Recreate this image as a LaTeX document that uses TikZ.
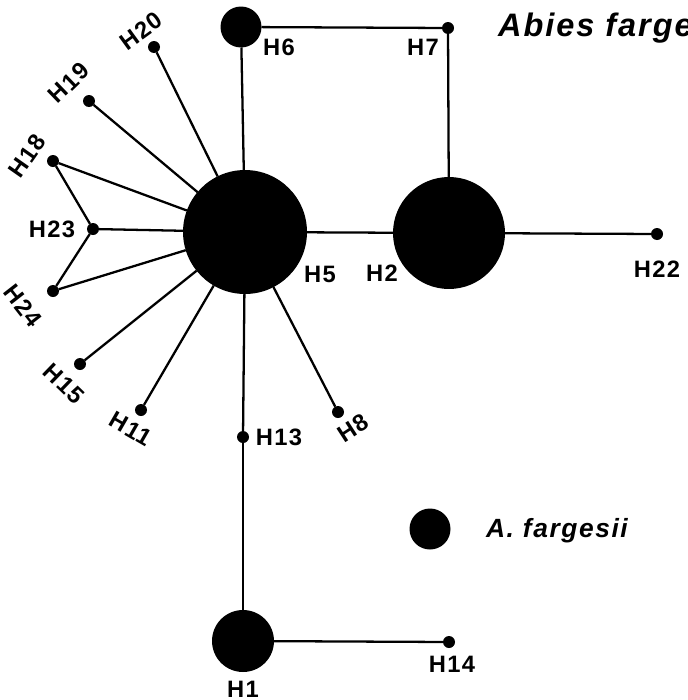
\documentclass[tikz,border=0pt]{standalone}
\usepackage{fontspec}
\setmainfont{Liberation Sans}[LetterSpace=6]
\begin{document}
\begin{tikzpicture}[x=0.02cm, y=-0.02cm, line width=1.3pt, font=\bfseries\fontsize{13.5}{16}\selectfont]

    % Styles
    \tikzstyle{hap} = [circle, fill=black, inner sep=0pt, outer sep=0pt]
    \tikzstyle{dot} = [hap, minimum size=0.24cm]
    \tikzstyle{lab} = [inner sep=0pt]
    \tikzstyle{link} = [draw=black, line width=1.3pt]

    \useasboundingbox (0,0) rectangle (687,700);

    % Haplotypes
    \node[hap, minimum size=2.48cm] (h5) at (245,232) {}; % central haplotype
    \node[hap, minimum size=2.24cm] (h2) at (449,233) {};
    \node[hap, minimum size=1.24cm] (h1) at (243,641) {};
    \node[hap, minimum size=0.82cm] (h6) at (241,27) {};
    \node[dot] (h7) at (448,28) {};
    \node[dot] (h22) at (657,234) {};
    \node[dot] (h20) at (154,47) {};
    \node[dot] (h19) at (89,101) {};
    \node[dot] (h18) at (53,161) {};
    \node[dot] (h23) at (93,229) {};
    \node[dot] (h24) at (53,291) {};
    \node[dot] (h15) at (80,364) {};
    \node[dot] (h11) at (141,410) {};
    \node[dot] (h13) at (243,437) {};
    \node[dot] (h8) at (338,412) {};
    \node[dot] (h14) at (449,642) {};

    % Labels
    \node[lab] (lab_h5) at (320,274) {H5};
    \node[lab] (lab_h2) at (382,273) {H2};
    \node[lab] (lab_h1) at (243,689) {H1};
    \node[lab] (lab_h6) at (279,47) {H6};
    \node[lab] (lab_h7) at (423,47) {H7};
    \node[lab] (lab_h22) at (657,269) {H22};
    \node[lab, rotate=36] (lab_h20) at (141,31) {H20};
    \node[lab, rotate=44] (lab_h19) at (69,83) {H19};
    \node[lab, rotate=55] (lab_h18) at (27,156) {H18};
    \node[lab] (lab_h23) at (52,229) {H23};
    \node[lab, rotate=-52] (lab_h24) at (23,306) {H24};
    \node[lab, rotate=-44] (lab_h15) at (64,384) {H15};
    \node[lab, rotate=-30] (lab_h11) at (131,429) {H11};
    \node[lab] (lab_h13) at (279,437) {H13};
    \node[lab, rotate=33] (lab_h8) at (353,428) {H8};
    \node[lab] (lab_h14) at (452,664) {H14};

    % Title and legend
    \node[lab, anchor=base west, font=\bfseries\itshape\fontsize{18.5}{22}\selectfont] (title) at (497,36) {Abies fargesii};
    \node[hap, minimum size=0.82cm] (key) at (430,529) {};
    \node[lab, anchor=base west, font=\bfseries\itshape\fontsize{15}{18}\selectfont] (key_text) at (485,537) {A. fargesii};

    % Links
    \draw[link] (h5) -- (h6);
    \draw[link] (h6) -- (h7);
    \draw[link] (h7) -- (h2);
    \draw[link] (h5) -- (h2);
    \draw[link] (h2) -- (h22);
    \draw[link] (h5) -- (h20);
    \draw[link] (h5) -- (h19);
    \draw[link] (h5) -- (h18);
    \draw[link] (h5) -- (h23);
    \draw[link] (h5) -- (h24);
    \draw[link] (h18) -- (h23);
    \draw[link] (h23) -- (h24);
    \draw[link] (h5) -- (h15);
    \draw[link] (h5) -- (h11);
    \draw[link] (h5) -- (h13);
    \draw[link] (h5) -- (h8);
    \draw[link] (h13) -- (h1);
    \draw[link] (h1) -- (h14);

\end{tikzpicture}
\end{document}
